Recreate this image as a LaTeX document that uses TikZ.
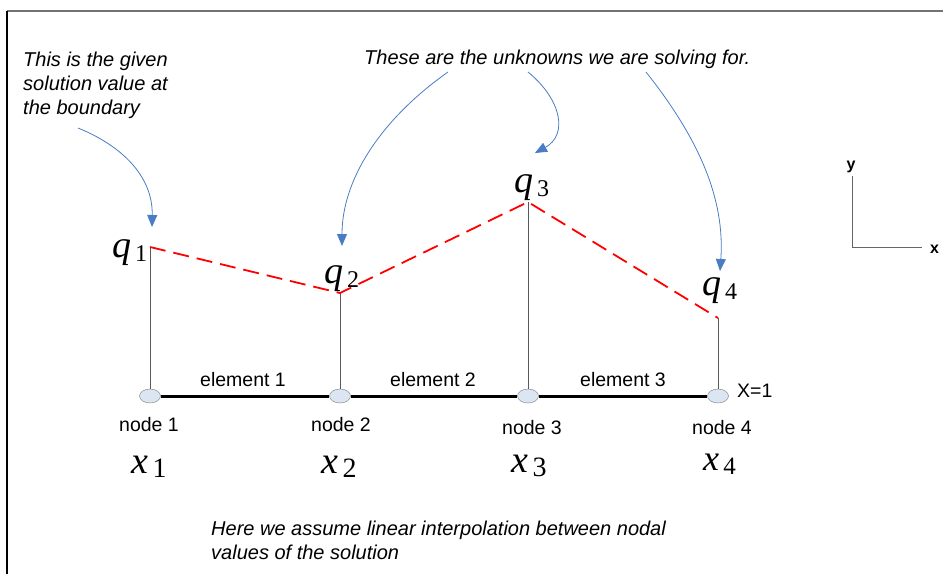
\documentclass[tikz,border=0pt]{standalone}
\usepackage{fontspec}
\setmainfont{Liberation Sans}
\newfontfamily\timesfont{Liberation Serif}
\usetikzlibrary{arrows.meta,shapes.geometric,positioning}
\definecolor{arrowblue}{HTML}{4A7CC4}
\definecolor{jointfill}{HTML}{DCE6F2}
\newcommand{\symlab}[4]{{\timesfont\fontsize{#3}{#3}\selectfont\textit{#1}\raisebox{-4pt}{\fontsize{#4}{#4}\selectfont\,#2}}}

\begin{document}
\begin{tikzpicture}[x=1pt,y=-1pt,
	note/.style={font=\fontsize{20}{24}\selectfont\itshape, align=left, inner sep=0pt, anchor=north west},
	plain/.style={font=\fontsize{19.5}{23}\selectfont, inner sep=0pt},
	joint/.style={ellipse, draw=black!55, fill=jointfill, minimum width=21pt, minimum height=14pt, inner sep=0pt},
	stem/.style={black!65, line width=0.8pt},
	interp/.style={red, line width=1.8pt, dash pattern=on 16pt off 8pt},
	pointer/.style={arrowblue, line width=0.8pt, -{Triangle[length=12pt,width=10pt]}},
	sym/.style={inner sep=0pt, anchor=base west}]
	\useasboundingbox (0,0) rectangle (943,574);
	
	% frame
	\draw[black!55, line width=2pt] (7,11) -- (943,11);
	\draw[line width=1.5pt] (7,11) -- (7,574);
	
	% nodes on the bar and solution values
	\foreach \i/\x in {1/150,2/340,3/528,4/718}
		\node[joint] (n\i) at (\x,396) {};
	\coordinate (t1) at (150,247);
	\coordinate (t2) at (340,293);
	\coordinate (t3) at (528,202);
	\coordinate (t4) at (718,318);
	\foreach \i in {1,...,4}
		\draw[stem] (n\i.north) -- (t\i);
	\draw[line width=3pt] (n1) -- (n2) (n2) -- (n3) (n3) -- (n4);
	\draw[interp] (t1) -- (t2) -- (t3) -- (t4);
	
	\node[plain, anchor=base] (el1) at (243,386) {element 1};
	\node[plain, anchor=base] (el2) at (433,386) {element 2};
	\node[plain, anchor=base] (el3) at (623,386) {element 3};
	\node[plain, anchor=base west] (xend) at (737,397) {X=1};
	
	\node[plain, anchor=base] (lab1) at (149,431) {node 1};
	\node[plain, anchor=base] (lab2) at (341,431) {node 2};
	\node[plain, anchor=base] (lab3) at (532,434) {node 3};
	\node[plain, anchor=base] (lab4) at (722,434) {node 4};
	
	\node[sym] (x1) at (131,473) {\symlab{x}{1}{38}{28}};
	\node[sym] (x2) at (321,473) {\symlab{x}{2}{38}{28}};
	\node[sym] (x3) at (511,472) {\symlab{x}{3}{38}{28}};
	\node[sym] (x4) at (703,470) {\symlab{x}{4}{36}{25}};
	
	\node[sym] (q1) at (112,257) {\symlab{q}{1}{38}{24}};
	\node[sym] (q2) at (324,283) {\symlab{q}{2}{38}{24}};
	\node[sym] (q3) at (514,192) {\symlab{q}{3}{38}{24}};
	\node[sym] (q4) at (702,295) {\symlab{q}{4}{38}{24}};
	
	% axes
	\coordinate (origin) at (852,247);
	\draw[black!60, line width=0.8pt] (852,176) -- (origin) -- (922,247);
	\node[font=\fontsize{16}{16}\selectfont\bfseries, inner sep=0pt, anchor=base] (ylab) at (851,169) {y};
	\node[font=\fontsize{16}{16}\selectfont\bfseries, inner sep=0pt, anchor=base west] (xlab) at (930,253) {x};
	
	% comments
	\node[note] (given) at (23,52) {This is the given\\solution value at\\the boundary};
	\node[note] (unknown) at (364,49.5) {These are the unknowns we are solving for.};
	\node[note] (interpnote) at (211,521) {Here we assume linear interpolation between nodal\\values of the solution};
	
	\coordinate (s1) at (78,128);  \coordinate (e1) at (152,227);
	\coordinate (s2) at (448,72);  \coordinate (e2) at (342,246);
	\coordinate (s3) at (528,72);  \coordinate (e3) at (535,153);
	\coordinate (s4) at (646,72);  \coordinate (e4) at (720,271);
	\draw[pointer] (s1) .. controls (120,145) and (153,175) .. (e1);
	\draw[pointer] (s2) .. controls (380,120) and (342,180) .. (e2);
	\draw[pointer] (s3) .. controls (562,100) and (568,135) .. (e3);
	\draw[pointer] (s4) .. controls (700,140) and (725,200) .. (e4);
\end{tikzpicture}
\end{document}
